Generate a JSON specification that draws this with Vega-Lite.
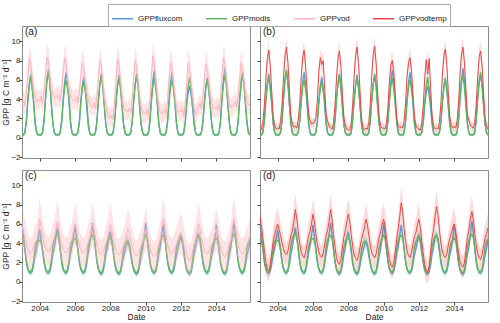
{
"$schema":"https://vega.github.io/schema/vega-lite/v6.json",
"padding":{"left":1,"top":3,"right":3,"bottom":0},
"bounds":"flush",
"columns":2,
"spacing":{"row":12,"column":10},
"config":{"font":"Liberation Sans","view":{"stroke":"#8c8c8c","strokeWidth":1},
"axis":{"domain":false,"grid":false,"tickColor":"#444","tickSize":3,"labelFontSize":8,"labelColor":"#222","titleFontSize":8.5,"titleFontWeight":"normal","titleColor":"#222","labelPadding":-1,"titlePadding":0},
"title":{"anchor":"start","frame":"group","offset":-11,"dx":3,"fontSize":10,"fontWeight":"normal","color":"#222"}},
"datasets":{
"top":[
{"t":"2003-01","f":0.3,"F":0.15,"m":0.3,"M":0.15,"v":3.3,"V":1.0,"r":0.7,"R":0.5},
{"t":"2003-02","f":0.3,"F":0.15,"m":0.3,"M":0.15,"v":3.8,"V":1.0,"r":0.9,"R":0.5},
{"t":"2003-03","f":0.6,"F":0.2,"m":0.5,"M":0.2,"v":3.4,"V":1.1,"r":1.6,"R":0.6},
{"t":"2003-04","f":1.8,"F":0.3,"m":1.6,"M":0.3,"v":4.6,"V":1.2,"r":3.3,"R":0.7},
{"t":"2003-05","f":3.9,"F":0.4,"m":3.7,"M":0.45,"v":6.4,"V":1.3,"r":6.0,"R":0.8},
{"t":"2003-06","f":5.6,"F":0.5,"m":5.5,"M":0.55,"v":8.3,"V":1.4,"r":8.2,"R":0.9},
{"t":"2003-07","f":6.6,"F":0.5,"m":6.3,"M":0.55,"v":7.6,"V":1.4,"r":9.1,"R":1.0},
{"t":"2003-08","f":5.4,"F":0.5,"m":5.0,"M":0.55,"v":6.2,"V":1.3,"r":7.5,"R":0.9},
{"t":"2003-09","f":3.3,"F":0.4,"m":3.8,"M":0.6,"v":4.9,"V":1.2,"r":4.8,"R":0.8},
{"t":"2003-10","f":1.4,"F":0.3,"m":1.6,"M":0.35,"v":4.2,"V":1.1,"r":2.2,"R":0.6},
{"t":"2003-11","f":0.5,"F":0.2,"m":0.5,"M":0.2,"v":3.7,"V":1.0,"r":1.3,"R":0.5},
{"t":"2003-12","f":0.3,"F":0.15,"m":0.3,"M":0.15,"v":4.0,"V":1.0,"r":0.9,"R":0.5},
{"t":"2004-01","f":0.3,"F":0.15,"m":0.3,"M":0.15,"v":3.8,"V":1.0,"r":1.0,"R":0.5},
{"t":"2004-02","f":0.3,"F":0.15,"m":0.3,"M":0.15,"v":4.3,"V":1.0,"r":0.9,"R":0.5},
{"t":"2004-03","f":0.6,"F":0.2,"m":0.5,"M":0.2,"v":3.6,"V":1.1,"r":1.7,"R":0.6},
{"t":"2004-04","f":1.9,"F":0.3,"m":1.7,"M":0.3,"v":4.8,"V":1.2,"r":3.4,"R":0.7},
{"t":"2004-05","f":4.1,"F":0.4,"m":4.0,"M":0.45,"v":6.6,"V":1.3,"r":6.2,"R":0.8},
{"t":"2004-06","f":6.0,"F":0.5,"m":6.1,"M":0.55,"v":8.3,"V":1.4,"r":8.5,"R":0.9},
{"t":"2004-07","f":7.0,"F":0.5,"m":7.0,"M":0.55,"v":7.9,"V":1.4,"r":9.4,"R":1.0},
{"t":"2004-08","f":5.7,"F":0.5,"m":5.6,"M":0.55,"v":6.4,"V":1.3,"r":7.8,"R":0.9},
{"t":"2004-09","f":3.4,"F":0.4,"m":3.4,"M":0.6,"v":5.0,"V":1.2,"r":4.9,"R":0.8},
{"t":"2004-10","f":1.4,"F":0.3,"m":1.5,"M":0.35,"v":4.5,"V":1.1,"r":2.3,"R":0.6},
{"t":"2004-11","f":0.5,"F":0.2,"m":0.5,"M":0.2,"v":4.1,"V":1.0,"r":1.4,"R":0.5},
{"t":"2004-12","f":0.3,"F":0.15,"m":0.3,"M":0.15,"v":4.2,"V":1.0,"r":1.1,"R":0.5},
{"t":"2005-01","f":0.3,"F":0.15,"m":0.3,"M":0.15,"v":4.1,"V":1.0,"r":1.2,"R":0.5},
{"t":"2005-02","f":0.3,"F":0.15,"m":0.3,"M":0.15,"v":4.4,"V":1.0,"r":1.0,"R":0.5},
{"t":"2005-03","f":0.6,"F":0.2,"m":0.5,"M":0.2,"v":3.8,"V":1.1,"r":1.8,"R":0.6},
{"t":"2005-04","f":1.8,"F":0.3,"m":1.6,"M":0.3,"v":5.0,"V":1.2,"r":3.5,"R":0.7},
{"t":"2005-05","f":4.0,"F":0.4,"m":3.6,"M":0.45,"v":6.8,"V":1.3,"r":6.1,"R":0.8},
{"t":"2005-06","f":5.8,"F":0.5,"m":5.3,"M":0.55,"v":8.3,"V":1.4,"r":8.3,"R":0.9},
{"t":"2005-07","f":6.8,"F":0.5,"m":6.0,"M":0.55,"v":7.8,"V":1.4,"r":9.1,"R":1.0},
{"t":"2005-08","f":5.5,"F":0.5,"m":5.0,"M":0.55,"v":6.1,"V":1.3,"r":7.5,"R":0.9},
{"t":"2005-09","f":3.4,"F":0.4,"m":4.2,"M":0.6,"v":5.2,"V":1.2,"r":4.9,"R":0.8},
{"t":"2005-10","f":1.4,"F":0.3,"m":1.8,"M":0.35,"v":4.3,"V":1.1,"r":2.6,"R":0.6},
{"t":"2005-11","f":0.5,"F":0.2,"m":0.5,"M":0.2,"v":4.0,"V":1.0,"r":1.8,"R":0.5},
{"t":"2005-12","f":0.3,"F":0.15,"m":0.3,"M":0.15,"v":3.9,"V":1.0,"r":1.4,"R":0.5},
{"t":"2006-01","f":0.3,"F":0.15,"m":0.3,"M":0.15,"v":3.9,"V":1.0,"r":1.5,"R":0.5},
{"t":"2006-02","f":0.3,"F":0.15,"m":0.3,"M":0.15,"v":4.2,"V":1.0,"r":1.6,"R":0.5},
{"t":"2006-03","f":0.6,"F":0.2,"m":0.5,"M":0.2,"v":3.6,"V":1.1,"r":2.0,"R":0.6},
{"t":"2006-04","f":1.7,"F":0.3,"m":1.5,"M":0.3,"v":4.6,"V":1.2,"r":3.8,"R":0.7},
{"t":"2006-05","f":3.8,"F":0.4,"m":3.5,"M":0.45,"v":6.3,"V":1.3,"r":6.8,"R":0.8},
{"t":"2006-06","f":5.4,"F":0.5,"m":5.1,"M":0.55,"v":7.8,"V":1.4,"r":8.3,"R":0.9},
{"t":"2006-07","f":6.3,"F":0.5,"m":5.8,"M":0.55,"v":7.2,"V":1.4,"r":7.6,"R":1.0},
{"t":"2006-08","f":5.1,"F":0.5,"m":4.9,"M":0.55,"v":6.0,"V":1.3,"r":8.0,"R":0.9},
{"t":"2006-09","f":3.1,"F":0.4,"m":4.0,"M":0.6,"v":4.9,"V":1.2,"r":5.0,"R":0.8},
{"t":"2006-10","f":1.3,"F":0.3,"m":1.7,"M":0.35,"v":4.1,"V":1.1,"r":2.4,"R":0.6},
{"t":"2006-11","f":0.5,"F":0.2,"m":0.5,"M":0.2,"v":3.5,"V":1.0,"r":1.7,"R":0.5},
{"t":"2006-12","f":0.3,"F":0.15,"m":0.3,"M":0.15,"v":3.3,"V":1.0,"r":1.2,"R":0.5},
{"t":"2007-01","f":0.3,"F":0.15,"m":0.3,"M":0.15,"v":3.2,"V":1.0,"r":1.0,"R":0.5},
{"t":"2007-02","f":0.3,"F":0.15,"m":0.3,"M":0.15,"v":3.6,"V":1.0,"r":0.9,"R":0.5},
{"t":"2007-03","f":0.6,"F":0.2,"m":0.5,"M":0.2,"v":3.0,"V":1.1,"r":1.5,"R":0.6},
{"t":"2007-04","f":1.8,"F":0.3,"m":1.7,"M":0.3,"v":4.3,"V":1.2,"r":3.3,"R":0.7},
{"t":"2007-05","f":3.9,"F":0.4,"m":3.9,"M":0.45,"v":6.2,"V":1.3,"r":6.0,"R":0.8},
{"t":"2007-06","f":5.6,"F":0.5,"m":5.6,"M":0.55,"v":8.0,"V":1.4,"r":8.2,"R":0.9},
{"t":"2007-07","f":6.6,"F":0.5,"m":6.5,"M":0.55,"v":7.4,"V":1.4,"r":9.0,"R":1.0},
{"t":"2007-08","f":5.4,"F":0.5,"m":5.2,"M":0.55,"v":5.8,"V":1.3,"r":7.4,"R":0.9},
{"t":"2007-09","f":3.3,"F":0.4,"m":3.2,"M":0.6,"v":4.3,"V":1.2,"r":4.6,"R":0.8},
{"t":"2007-10","f":1.4,"F":0.3,"m":1.4,"M":0.35,"v":3.4,"V":1.1,"r":2.2,"R":0.6},
{"t":"2007-11","f":0.5,"F":0.2,"m":0.5,"M":0.2,"v":2.6,"V":1.0,"r":1.3,"R":0.5},
{"t":"2007-12","f":0.3,"F":0.15,"m":0.3,"M":0.15,"v":2.2,"V":1.0,"r":0.9,"R":0.5},
{"t":"2008-01","f":0.3,"F":0.15,"m":0.3,"M":0.15,"v":2.0,"V":1.0,"r":0.8,"R":0.5},
{"t":"2008-02","f":0.3,"F":0.15,"m":0.3,"M":0.15,"v":2.3,"V":1.0,"r":0.8,"R":0.5},
{"t":"2008-03","f":0.6,"F":0.2,"m":0.5,"M":0.2,"v":1.9,"V":1.1,"r":1.4,"R":0.6},
{"t":"2008-04","f":1.8,"F":0.3,"m":1.7,"M":0.3,"v":3.8,"V":1.2,"r":3.4,"R":0.7},
{"t":"2008-05","f":3.9,"F":0.4,"m":3.8,"M":0.45,"v":6.2,"V":1.3,"r":6.3,"R":0.8},
{"t":"2008-06","f":5.5,"F":0.5,"m":5.5,"M":0.55,"v":8.2,"V":1.4,"r":8.6,"R":0.9},
{"t":"2008-07","f":6.5,"F":0.5,"m":6.3,"M":0.55,"v":7.5,"V":1.4,"r":9.4,"R":1.0},
{"t":"2008-08","f":5.3,"F":0.5,"m":5.1,"M":0.55,"v":5.9,"V":1.3,"r":7.7,"R":0.9},
{"t":"2008-09","f":3.2,"F":0.4,"m":3.3,"M":0.6,"v":4.4,"V":1.2,"r":4.8,"R":0.8},
{"t":"2008-10","f":1.4,"F":0.3,"m":1.5,"M":0.35,"v":3.3,"V":1.1,"r":2.0,"R":0.6},
{"t":"2008-11","f":0.5,"F":0.2,"m":0.5,"M":0.2,"v":2.8,"V":1.0,"r":1.1,"R":0.5},
{"t":"2008-12","f":0.3,"F":0.15,"m":0.3,"M":0.15,"v":2.9,"V":1.0,"r":0.8,"R":0.5},
{"t":"2009-01","f":0.3,"F":0.15,"m":0.3,"M":0.15,"v":2.7,"V":1.0,"r":1.0,"R":0.5},
{"t":"2009-02","f":0.3,"F":0.15,"m":0.3,"M":0.15,"v":3.1,"V":1.0,"r":0.9,"R":0.5},
{"t":"2009-03","f":0.6,"F":0.2,"m":0.5,"M":0.2,"v":2.6,"V":1.1,"r":1.6,"R":0.6},
{"t":"2009-04","f":1.8,"F":0.3,"m":1.7,"M":0.3,"v":4.2,"V":1.2,"r":3.5,"R":0.7},
{"t":"2009-05","f":3.9,"F":0.4,"m":3.9,"M":0.45,"v":6.3,"V":1.3,"r":6.4,"R":0.8},
{"t":"2009-06","f":5.6,"F":0.5,"m":5.6,"M":0.55,"v":8.0,"V":1.4,"r":8.7,"R":0.9},
{"t":"2009-07","f":6.6,"F":0.5,"m":6.5,"M":0.55,"v":7.4,"V":1.4,"r":9.5,"R":1.0},
{"t":"2009-08","f":5.4,"F":0.5,"m":5.2,"M":0.55,"v":5.7,"V":1.3,"r":7.6,"R":0.9},
{"t":"2009-09","f":3.3,"F":0.4,"m":3.0,"M":0.6,"v":4.2,"V":1.2,"r":4.6,"R":0.8},
{"t":"2009-10","f":1.4,"F":0.3,"m":1.4,"M":0.35,"v":3.2,"V":1.1,"r":2.1,"R":0.6},
{"t":"2009-11","f":0.5,"F":0.2,"m":0.5,"M":0.2,"v":2.5,"V":1.0,"r":1.2,"R":0.5},
{"t":"2009-12","f":0.3,"F":0.15,"m":0.3,"M":0.15,"v":2.6,"V":1.0,"r":1.0,"R":0.5},
{"t":"2010-01","f":0.3,"F":0.15,"m":0.3,"M":0.15,"v":2.4,"V":1.0,"r":1.0,"R":0.5},
{"t":"2010-02","f":0.3,"F":0.15,"m":0.3,"M":0.15,"v":2.9,"V":1.0,"r":0.9,"R":0.5},
{"t":"2010-03","f":0.6,"F":0.2,"m":0.5,"M":0.2,"v":2.3,"V":1.1,"r":1.5,"R":0.6},
{"t":"2010-04","f":1.9,"F":0.3,"m":1.6,"M":0.3,"v":4.0,"V":1.2,"r":3.2,"R":0.7},
{"t":"2010-05","f":4.1,"F":0.4,"m":3.7,"M":0.45,"v":6.4,"V":1.3,"r":5.8,"R":0.8},
{"t":"2010-06","f":6.0,"F":0.5,"m":5.4,"M":0.55,"v":8.5,"V":1.4,"r":7.6,"R":0.9},
{"t":"2010-07","f":7.0,"F":0.5,"m":6.2,"M":0.55,"v":7.8,"V":1.4,"r":8.0,"R":1.0},
{"t":"2010-08","f":5.7,"F":0.5,"m":5.0,"M":0.55,"v":6.0,"V":1.3,"r":6.8,"R":0.9},
{"t":"2010-09","f":3.4,"F":0.4,"m":3.6,"M":0.6,"v":4.5,"V":1.2,"r":4.4,"R":0.8},
{"t":"2010-10","f":1.4,"F":0.3,"m":1.6,"M":0.35,"v":3.3,"V":1.1,"r":2.0,"R":0.6},
{"t":"2010-11","f":0.5,"F":0.2,"m":0.5,"M":0.2,"v":2.6,"V":1.0,"r":1.2,"R":0.5},
{"t":"2010-12","f":0.3,"F":0.15,"m":0.3,"M":0.15,"v":2.5,"V":1.0,"r":1.0,"R":0.5},
{"t":"2011-01","f":0.3,"F":0.15,"m":0.3,"M":0.15,"v":2.6,"V":1.0,"r":1.2,"R":0.5},
{"t":"2011-02","f":0.3,"F":0.15,"m":0.3,"M":0.15,"v":3.0,"V":1.0,"r":1.0,"R":0.5},
{"t":"2011-03","f":0.6,"F":0.2,"m":0.5,"M":0.2,"v":2.4,"V":1.1,"r":1.7,"R":0.6},
{"t":"2011-04","f":1.8,"F":0.3,"m":1.6,"M":0.3,"v":3.9,"V":1.2,"r":3.6,"R":0.7},
{"t":"2011-05","f":4.0,"F":0.4,"m":3.6,"M":0.45,"v":6.0,"V":1.3,"r":6.4,"R":0.8},
{"t":"2011-06","f":5.8,"F":0.5,"m":5.3,"M":0.55,"v":7.8,"V":1.4,"r":7.8,"R":0.9},
{"t":"2011-07","f":6.8,"F":0.5,"m":6.0,"M":0.55,"v":7.2,"V":1.4,"r":8.3,"R":1.0},
{"t":"2011-08","f":5.5,"F":0.5,"m":5.0,"M":0.55,"v":5.7,"V":1.3,"r":7.0,"R":0.9},
{"t":"2011-09","f":3.4,"F":0.4,"m":3.8,"M":0.6,"v":4.4,"V":1.2,"r":4.5,"R":0.8},
{"t":"2011-10","f":1.4,"F":0.3,"m":1.7,"M":0.35,"v":3.2,"V":1.1,"r":2.2,"R":0.6},
{"t":"2011-11","f":0.5,"F":0.2,"m":0.5,"M":0.2,"v":2.6,"V":1.0,"r":1.3,"R":0.5},
{"t":"2011-12","f":0.3,"F":0.15,"m":0.3,"M":0.15,"v":2.8,"V":1.0,"r":1.0,"R":0.5},
{"t":"2012-01","f":0.3,"F":0.15,"m":0.3,"M":0.15,"v":2.7,"V":1.0,"r":0.9,"R":0.5},
{"t":"2012-02","f":0.3,"F":0.15,"m":0.3,"M":0.15,"v":3.0,"V":1.0,"r":0.8,"R":0.5},
{"t":"2012-03","f":0.6,"F":0.2,"m":0.5,"M":0.2,"v":2.2,"V":1.1,"r":1.5,"R":0.6},
{"t":"2012-04","f":1.6,"F":0.3,"m":1.7,"M":0.3,"v":3.6,"V":1.2,"r":3.4,"R":0.7},
{"t":"2012-05","f":3.4,"F":0.4,"m":3.8,"M":0.45,"v":5.8,"V":1.3,"r":6.2,"R":0.8},
{"t":"2012-06","f":4.7,"F":0.5,"m":5.5,"M":0.55,"v":7.8,"V":1.4,"r":8.1,"R":0.9},
{"t":"2012-07","f":5.4,"F":0.5,"m":6.3,"M":0.55,"v":7.0,"V":1.4,"r":6.6,"R":1.0},
{"t":"2012-08","f":4.5,"F":0.5,"m":5.1,"M":0.55,"v":5.6,"V":1.3,"r":8.2,"R":0.9},
{"t":"2012-09","f":2.9,"F":0.4,"m":4.0,"M":0.6,"v":4.2,"V":1.2,"r":5.0,"R":0.8},
{"t":"2012-10","f":1.3,"F":0.3,"m":1.8,"M":0.35,"v":3.0,"V":1.1,"r":2.2,"R":0.6},
{"t":"2012-11","f":0.5,"F":0.2,"m":0.5,"M":0.2,"v":2.4,"V":1.0,"r":1.2,"R":0.5},
{"t":"2012-12","f":0.3,"F":0.15,"m":0.3,"M":0.15,"v":2.8,"V":1.0,"r":0.9,"R":0.5},
{"t":"2013-01","f":0.3,"F":0.15,"m":0.3,"M":0.15,"v":3.2,"V":1.0,"r":1.0,"R":0.5},
{"t":"2013-02","f":0.3,"F":0.15,"m":0.3,"M":0.15,"v":3.6,"V":1.0,"r":0.9,"R":0.5},
{"t":"2013-03","f":0.6,"F":0.2,"m":0.5,"M":0.2,"v":3.0,"V":1.1,"r":1.6,"R":0.6},
{"t":"2013-04","f":1.7,"F":0.3,"m":1.6,"M":0.3,"v":4.3,"V":1.2,"r":3.5,"R":0.7},
{"t":"2013-05","f":3.7,"F":0.4,"m":3.6,"M":0.45,"v":6.1,"V":1.3,"r":6.4,"R":0.8},
{"t":"2013-06","f":5.3,"F":0.5,"m":5.3,"M":0.55,"v":7.6,"V":1.4,"r":8.5,"R":0.9},
{"t":"2013-07","f":6.2,"F":0.5,"m":6.1,"M":0.55,"v":7.1,"V":1.4,"r":9.2,"R":1.0},
{"t":"2013-08","f":5.1,"F":0.5,"m":4.9,"M":0.55,"v":5.8,"V":1.3,"r":7.6,"R":0.9},
{"t":"2013-09","f":3.1,"F":0.4,"m":3.4,"M":0.6,"v":4.5,"V":1.2,"r":4.7,"R":0.8},
{"t":"2013-10","f":1.3,"F":0.3,"m":1.5,"M":0.35,"v":3.6,"V":1.1,"r":2.2,"R":0.6},
{"t":"2013-11","f":0.5,"F":0.2,"m":0.5,"M":0.2,"v":3.0,"V":1.0,"r":1.3,"R":0.5},
{"t":"2013-12","f":0.3,"F":0.15,"m":0.3,"M":0.15,"v":3.1,"V":1.0,"r":1.0,"R":0.5},
{"t":"2014-01","f":0.3,"F":0.15,"m":0.3,"M":0.15,"v":3.0,"V":1.0,"r":1.2,"R":0.5},
{"t":"2014-02","f":0.3,"F":0.15,"m":0.3,"M":0.15,"v":3.4,"V":1.0,"r":1.0,"R":0.5},
{"t":"2014-03","f":0.6,"F":0.2,"m":0.5,"M":0.2,"v":2.8,"V":1.1,"r":1.7,"R":0.6},
{"t":"2014-04","f":1.9,"F":0.3,"m":1.7,"M":0.3,"v":4.3,"V":1.2,"r":3.6,"R":0.7},
{"t":"2014-05","f":4.2,"F":0.4,"m":3.9,"M":0.45,"v":6.4,"V":1.3,"r":6.5,"R":0.8},
{"t":"2014-06","f":6.1,"F":0.5,"m":5.7,"M":0.55,"v":8.3,"V":1.4,"r":8.7,"R":0.9},
{"t":"2014-07","f":7.2,"F":0.5,"m":6.5,"M":0.55,"v":7.6,"V":1.4,"r":9.4,"R":1.0},
{"t":"2014-08","f":5.9,"F":0.5,"m":5.2,"M":0.55,"v":6.0,"V":1.3,"r":7.8,"R":0.9},
{"t":"2014-09","f":3.5,"F":0.4,"m":3.2,"M":0.6,"v":4.6,"V":1.2,"r":4.9,"R":0.8},
{"t":"2014-10","f":1.5,"F":0.3,"m":1.5,"M":0.35,"v":3.6,"V":1.1,"r":2.4,"R":0.6},
{"t":"2014-11","f":0.5,"F":0.2,"m":0.5,"M":0.2,"v":3.1,"V":1.0,"r":1.8,"R":0.5},
{"t":"2014-12","f":0.3,"F":0.15,"m":0.3,"M":0.15,"v":3.2,"V":1.0,"r":1.3,"R":0.5},
{"t":"2015-01","f":0.3,"F":0.15,"m":0.3,"M":0.15,"v":3.4,"V":1.0,"r":1.1,"R":0.5},
{"t":"2015-02","f":0.3,"F":0.15,"m":0.3,"M":0.15,"v":3.8,"V":1.0,"r":1.0,"R":0.5},
{"t":"2015-03","f":0.6,"F":0.2,"m":0.5,"M":0.2,"v":3.2,"V":1.1,"r":1.6,"R":0.6},
{"t":"2015-04","f":1.8,"F":0.3,"m":1.8,"M":0.3,"v":4.4,"V":1.2,"r":3.4,"R":0.7},
{"t":"2015-05","f":3.9,"F":0.4,"m":4.1,"M":0.45,"v":6.2,"V":1.3,"r":6.2,"R":0.8},
{"t":"2015-06","f":5.6,"F":0.5,"m":6.0,"M":0.55,"v":7.8,"V":1.4,"r":8.4,"R":0.9},
{"t":"2015-07","f":6.6,"F":0.5,"m":6.8,"M":0.55,"v":7.2,"V":1.4,"r":9.0,"R":1.0},
{"t":"2015-08","f":5.4,"F":0.5,"m":5.4,"M":0.55,"v":5.8,"V":1.3,"r":7.5,"R":0.9},
{"t":"2015-09","f":3.3,"F":0.4,"m":3.4,"M":0.6,"v":4.5,"V":1.2,"r":4.6,"R":0.8},
{"t":"2015-10","f":1.4,"F":0.3,"m":1.5,"M":0.35,"v":3.8,"V":1.1,"r":2.1,"R":0.6},
{"t":"2015-11","f":0.5,"F":0.2,"m":0.5,"M":0.2,"v":3.4,"V":1.0,"r":1.2,"R":0.5},
{"t":"2015-12","f":0.3,"F":0.15,"m":0.3,"M":0.15,"v":3.5,"V":1.0,"r":0.9,"R":0.5}
],
"bot":[
{"t":"2003-01","f":6.0,"F":0.7,"m":4.5,"M":0.5,"v":5.8,"V":2.2,"r":6.6,"R":1.6},
{"t":"2003-02","f":4.8,"F":0.6,"m":4.2,"M":0.5,"v":5.2,"V":2.0,"r":5.7,"R":1.5},
{"t":"2003-03","f":3.3,"F":0.5,"m":3.5,"M":0.5,"v":4.6,"V":1.8,"r":4.6,"R":1.4},
{"t":"2003-04","f":2.0,"F":0.4,"m":2.2,"M":0.4,"v":3.9,"V":1.7,"r":3.3,"R":1.3},
{"t":"2003-05","f":1.3,"F":0.35,"m":1.4,"M":0.3,"v":3.3,"V":1.6,"r":2.0,"R":1.2},
{"t":"2003-06","f":1.0,"F":0.3,"m":1.0,"M":0.3,"v":3.0,"V":1.6,"r":1.4,"R":1.2},
{"t":"2003-07","f":0.9,"F":0.3,"m":1.0,"M":0.3,"v":3.0,"V":1.6,"r":1.2,"R":1.2},
{"t":"2003-08","f":1.1,"F":0.35,"m":1.3,"M":0.3,"v":3.2,"V":1.6,"r":1.8,"R":1.2},
{"t":"2003-09","f":1.8,"F":0.4,"m":2.3,"M":0.4,"v":3.6,"V":1.7,"r":3.0,"R":1.3},
{"t":"2003-10","f":2.8,"F":0.5,"m":3.6,"M":0.5,"v":4.1,"V":1.8,"r":4.2,"R":1.4},
{"t":"2003-11","f":3.4,"F":0.55,"m":4.2,"M":0.5,"v":4.3,"V":1.9,"r":4.9,"R":1.5},
{"t":"2003-12","f":4.4,"F":0.6,"m":4.3,"M":0.5,"v":5.2,"V":2.0,"r":5.5,"R":1.6},
{"t":"2004-01","f":5.4,"F":0.7,"m":4.3,"M":0.5,"v":6.5,"V":2.2,"r":6.0,"R":1.6},
{"t":"2004-02","f":4.4,"F":0.6,"m":4.1,"M":0.5,"v":5.7,"V":2.0,"r":5.4,"R":1.5},
{"t":"2004-03","f":3.2,"F":0.5,"m":3.4,"M":0.5,"v":4.7,"V":1.8,"r":4.8,"R":1.4},
{"t":"2004-04","f":2.0,"F":0.4,"m":2.2,"M":0.4,"v":4.0,"V":1.7,"r":4.0,"R":1.3},
{"t":"2004-05","f":1.3,"F":0.35,"m":1.4,"M":0.3,"v":3.5,"V":1.6,"r":3.4,"R":1.2},
{"t":"2004-06","f":1.0,"F":0.3,"m":1.0,"M":0.3,"v":3.2,"V":1.6,"r":3.0,"R":1.2},
{"t":"2004-07","f":0.9,"F":0.3,"m":1.0,"M":0.3,"v":3.1,"V":1.6,"r":2.8,"R":1.2},
{"t":"2004-08","f":1.1,"F":0.35,"m":1.3,"M":0.3,"v":3.3,"V":1.6,"r":3.2,"R":1.2},
{"t":"2004-09","f":1.8,"F":0.4,"m":2.4,"M":0.4,"v":3.7,"V":1.7,"r":4.0,"R":1.3},
{"t":"2004-10","f":2.9,"F":0.5,"m":3.8,"M":0.5,"v":4.2,"V":1.8,"r":4.8,"R":1.4},
{"t":"2004-11","f":3.6,"F":0.55,"m":4.5,"M":0.5,"v":4.5,"V":1.9,"r":5.2,"R":1.5},
{"t":"2004-12","f":4.6,"F":0.6,"m":4.8,"M":0.5,"v":5.4,"V":2.0,"r":6.2,"R":1.6},
{"t":"2005-01","f":5.6,"F":0.7,"m":5.0,"M":0.5,"v":6.3,"V":2.2,"r":7.5,"R":1.6},
{"t":"2005-02","f":4.6,"F":0.6,"m":4.6,"M":0.5,"v":5.6,"V":2.0,"r":6.5,"R":1.5},
{"t":"2005-03","f":3.3,"F":0.5,"m":3.6,"M":0.5,"v":4.6,"V":1.8,"r":5.2,"R":1.4},
{"t":"2005-04","f":2.0,"F":0.4,"m":2.2,"M":0.4,"v":3.9,"V":1.7,"r":4.0,"R":1.3},
{"t":"2005-05","f":1.3,"F":0.35,"m":1.4,"M":0.3,"v":3.4,"V":1.6,"r":3.1,"R":1.2},
{"t":"2005-06","f":1.0,"F":0.3,"m":1.0,"M":0.3,"v":3.1,"V":1.6,"r":2.7,"R":1.2},
{"t":"2005-07","f":0.9,"F":0.3,"m":1.0,"M":0.3,"v":3.0,"V":1.6,"r":2.5,"R":1.2},
{"t":"2005-08","f":1.1,"F":0.35,"m":1.3,"M":0.3,"v":3.2,"V":1.6,"r":3.0,"R":1.2},
{"t":"2005-09","f":1.9,"F":0.4,"m":2.3,"M":0.4,"v":3.6,"V":1.7,"r":3.9,"R":1.3},
{"t":"2005-10","f":3.0,"F":0.5,"m":3.6,"M":0.5,"v":4.1,"V":1.8,"r":4.7,"R":1.4},
{"t":"2005-11","f":3.7,"F":0.55,"m":4.2,"M":0.5,"v":4.4,"V":1.9,"r":5.2,"R":1.5},
{"t":"2005-12","f":4.7,"F":0.6,"m":4.4,"M":0.5,"v":5.2,"V":2.0,"r":6.0,"R":1.6},
{"t":"2006-01","f":5.9,"F":0.7,"m":4.5,"M":0.5,"v":6.0,"V":2.2,"r":7.0,"R":1.6},
{"t":"2006-02","f":4.7,"F":0.6,"m":4.3,"M":0.5,"v":5.5,"V":2.0,"r":6.2,"R":1.5},
{"t":"2006-03","f":3.3,"F":0.5,"m":3.5,"M":0.5,"v":4.5,"V":1.8,"r":5.0,"R":1.4},
{"t":"2006-04","f":2.0,"F":0.4,"m":2.2,"M":0.4,"v":3.8,"V":1.7,"r":3.9,"R":1.3},
{"t":"2006-05","f":1.3,"F":0.35,"m":1.4,"M":0.3,"v":3.3,"V":1.6,"r":3.1,"R":1.2},
{"t":"2006-06","f":1.0,"F":0.3,"m":1.0,"M":0.3,"v":3.0,"V":1.6,"r":2.7,"R":1.2},
{"t":"2006-07","f":0.9,"F":0.3,"m":1.0,"M":0.3,"v":3.0,"V":1.6,"r":2.5,"R":1.2},
{"t":"2006-08","f":1.1,"F":0.35,"m":1.3,"M":0.3,"v":3.2,"V":1.6,"r":3.0,"R":1.2},
{"t":"2006-09","f":1.9,"F":0.4,"m":2.3,"M":0.4,"v":3.6,"V":1.7,"r":3.9,"R":1.3},
{"t":"2006-10","f":3.0,"F":0.5,"m":3.7,"M":0.5,"v":4.1,"V":1.8,"r":4.8,"R":1.4},
{"t":"2006-11","f":3.8,"F":0.55,"m":4.4,"M":0.5,"v":4.5,"V":1.9,"r":5.4,"R":1.5},
{"t":"2006-12","f":4.9,"F":0.6,"m":4.7,"M":0.5,"v":5.3,"V":2.0,"r":6.3,"R":1.6},
{"t":"2007-01","f":6.1,"F":0.7,"m":4.8,"M":0.5,"v":6.0,"V":2.2,"r":7.5,"R":1.6},
{"t":"2007-02","f":4.8,"F":0.6,"m":4.5,"M":0.5,"v":5.4,"V":2.0,"r":6.4,"R":1.5},
{"t":"2007-03","f":3.3,"F":0.5,"m":3.5,"M":0.5,"v":4.5,"V":1.8,"r":4.9,"R":1.4},
{"t":"2007-04","f":2.0,"F":0.4,"m":2.2,"M":0.4,"v":3.8,"V":1.7,"r":3.6,"R":1.3},
{"t":"2007-05","f":1.3,"F":0.35,"m":1.3,"M":0.3,"v":3.2,"V":1.6,"r":2.6,"R":1.2},
{"t":"2007-06","f":0.9,"F":0.3,"m":1.0,"M":0.3,"v":2.9,"V":1.6,"r":2.0,"R":1.2},
{"t":"2007-07","f":0.8,"F":0.3,"m":0.9,"M":0.3,"v":2.8,"V":1.6,"r":1.8,"R":1.2},
{"t":"2007-08","f":1.0,"F":0.35,"m":1.2,"M":0.3,"v":3.0,"V":1.6,"r":2.3,"R":1.2},
{"t":"2007-09","f":1.7,"F":0.4,"m":2.2,"M":0.4,"v":3.5,"V":1.7,"r":3.5,"R":1.3},
{"t":"2007-10","f":2.8,"F":0.5,"m":3.5,"M":0.5,"v":4.0,"V":1.8,"r":4.6,"R":1.4},
{"t":"2007-11","f":3.5,"F":0.55,"m":4.2,"M":0.5,"v":4.4,"V":1.9,"r":5.3,"R":1.5},
{"t":"2007-12","f":4.5,"F":0.6,"m":4.5,"M":0.5,"v":5.3,"V":2.0,"r":6.2,"R":1.6},
{"t":"2008-01","f":5.2,"F":0.7,"m":4.5,"M":0.5,"v":6.0,"V":2.2,"r":7.0,"R":1.6},
{"t":"2008-02","f":4.3,"F":0.6,"m":4.3,"M":0.5,"v":5.4,"V":2.0,"r":6.2,"R":1.5},
{"t":"2008-03","f":3.1,"F":0.5,"m":3.4,"M":0.5,"v":4.4,"V":1.8,"r":4.9,"R":1.4},
{"t":"2008-04","f":1.9,"F":0.4,"m":2.1,"M":0.4,"v":3.7,"V":1.7,"r":3.7,"R":1.3},
{"t":"2008-05","f":1.2,"F":0.35,"m":1.3,"M":0.3,"v":3.2,"V":1.6,"r":2.8,"R":1.2},
{"t":"2008-06","f":0.9,"F":0.3,"m":1.0,"M":0.3,"v":2.9,"V":1.6,"r":2.4,"R":1.2},
{"t":"2008-07","f":0.8,"F":0.3,"m":0.9,"M":0.3,"v":2.8,"V":1.6,"r":2.2,"R":1.2},
{"t":"2008-08","f":1.0,"F":0.35,"m":1.2,"M":0.3,"v":3.0,"V":1.6,"r":2.7,"R":1.2},
{"t":"2008-09","f":1.7,"F":0.4,"m":2.2,"M":0.4,"v":3.4,"V":1.7,"r":3.6,"R":1.3},
{"t":"2008-10","f":2.6,"F":0.5,"m":3.4,"M":0.5,"v":3.8,"V":1.8,"r":4.4,"R":1.4},
{"t":"2008-11","f":3.2,"F":0.55,"m":4.0,"M":0.5,"v":4.1,"V":1.9,"r":5.0,"R":1.5},
{"t":"2008-12","f":3.8,"F":0.6,"m":4.2,"M":0.5,"v":4.8,"V":2.0,"r":5.6,"R":1.6},
{"t":"2009-01","f":4.2,"F":0.7,"m":4.2,"M":0.5,"v":5.5,"V":2.2,"r":6.5,"R":1.6},
{"t":"2009-02","f":3.6,"F":0.6,"m":3.9,"M":0.5,"v":5.0,"V":2.0,"r":5.9,"R":1.5},
{"t":"2009-03","f":2.7,"F":0.5,"m":3.1,"M":0.5,"v":4.2,"V":1.8,"r":4.8,"R":1.4},
{"t":"2009-04","f":1.8,"F":0.4,"m":2.0,"M":0.4,"v":3.6,"V":1.7,"r":3.8,"R":1.3},
{"t":"2009-05","f":1.2,"F":0.35,"m":1.3,"M":0.3,"v":3.1,"V":1.6,"r":3.0,"R":1.2},
{"t":"2009-06","f":0.9,"F":0.3,"m":1.0,"M":0.3,"v":2.8,"V":1.6,"r":2.7,"R":1.2},
{"t":"2009-07","f":0.8,"F":0.3,"m":0.9,"M":0.3,"v":2.7,"V":1.6,"r":2.5,"R":1.2},
{"t":"2009-08","f":1.0,"F":0.35,"m":1.2,"M":0.3,"v":2.9,"V":1.6,"r":2.9,"R":1.2},
{"t":"2009-09","f":1.7,"F":0.4,"m":2.2,"M":0.4,"v":3.3,"V":1.7,"r":3.8,"R":1.3},
{"t":"2009-10","f":2.7,"F":0.5,"m":3.5,"M":0.5,"v":3.7,"V":1.8,"r":4.6,"R":1.4},
{"t":"2009-11","f":3.4,"F":0.55,"m":4.1,"M":0.5,"v":4.0,"V":1.9,"r":5.2,"R":1.5},
{"t":"2009-12","f":4.6,"F":0.6,"m":4.5,"M":0.5,"v":4.9,"V":2.0,"r":6.0,"R":1.6},
{"t":"2010-01","f":6.1,"F":0.7,"m":4.8,"M":0.5,"v":5.5,"V":2.2,"r":6.5,"R":1.6},
{"t":"2010-02","f":4.9,"F":0.6,"m":4.5,"M":0.5,"v":5.0,"V":2.0,"r":5.8,"R":1.5},
{"t":"2010-03","f":3.3,"F":0.5,"m":3.5,"M":0.5,"v":4.2,"V":1.8,"r":4.5,"R":1.4},
{"t":"2010-04","f":2.0,"F":0.4,"m":2.2,"M":0.4,"v":3.5,"V":1.7,"r":3.3,"R":1.3},
{"t":"2010-05","f":1.3,"F":0.35,"m":1.4,"M":0.3,"v":3.0,"V":1.6,"r":2.3,"R":1.2},
{"t":"2010-06","f":1.0,"F":0.3,"m":1.0,"M":0.3,"v":2.7,"V":1.6,"r":1.7,"R":1.2},
{"t":"2010-07","f":0.9,"F":0.3,"m":1.0,"M":0.3,"v":2.6,"V":1.6,"r":1.5,"R":1.2},
{"t":"2010-08","f":1.1,"F":0.35,"m":1.3,"M":0.3,"v":2.8,"V":1.6,"r":2.0,"R":1.2},
{"t":"2010-09","f":1.8,"F":0.4,"m":2.3,"M":0.4,"v":3.3,"V":1.7,"r":3.2,"R":1.3},
{"t":"2010-10","f":2.9,"F":0.5,"m":3.6,"M":0.5,"v":3.9,"V":1.8,"r":4.5,"R":1.4},
{"t":"2010-11","f":3.6,"F":0.55,"m":4.3,"M":0.5,"v":4.3,"V":1.9,"r":5.5,"R":1.5},
{"t":"2010-12","f":4.8,"F":0.6,"m":4.7,"M":0.5,"v":5.6,"V":2.0,"r":6.8,"R":1.6},
{"t":"2011-01","f":5.9,"F":0.7,"m":4.8,"M":0.5,"v":6.5,"V":2.2,"r":8.2,"R":1.6},
{"t":"2011-02","f":4.8,"F":0.6,"m":4.5,"M":0.5,"v":5.8,"V":2.0,"r":7.2,"R":1.5},
{"t":"2011-03","f":3.3,"F":0.5,"m":3.6,"M":0.5,"v":4.7,"V":1.8,"r":5.5,"R":1.4},
{"t":"2011-04","f":2.0,"F":0.4,"m":2.2,"M":0.4,"v":3.9,"V":1.7,"r":4.2,"R":1.3},
{"t":"2011-05","f":1.3,"F":0.35,"m":1.4,"M":0.3,"v":3.3,"V":1.6,"r":3.2,"R":1.2},
{"t":"2011-06","f":1.0,"F":0.3,"m":1.0,"M":0.3,"v":3.0,"V":1.6,"r":2.7,"R":1.2},
{"t":"2011-07","f":0.9,"F":0.3,"m":1.0,"M":0.3,"v":2.9,"V":1.6,"r":2.5,"R":1.2},
{"t":"2011-08","f":1.1,"F":0.35,"m":1.3,"M":0.3,"v":3.1,"V":1.6,"r":3.0,"R":1.2},
{"t":"2011-09","f":1.8,"F":0.4,"m":2.3,"M":0.4,"v":3.5,"V":1.7,"r":3.9,"R":1.3},
{"t":"2011-10","f":2.8,"F":0.5,"m":3.6,"M":0.5,"v":3.9,"V":1.8,"r":4.7,"R":1.4},
{"t":"2011-11","f":3.4,"F":0.55,"m":4.2,"M":0.5,"v":4.2,"V":1.9,"r":5.1,"R":1.5},
{"t":"2011-12","f":4.2,"F":0.6,"m":4.5,"M":0.5,"v":4.8,"V":2.0,"r":5.9,"R":1.6},
{"t":"2012-01","f":4.8,"F":0.7,"m":4.8,"M":0.5,"v":5.0,"V":2.2,"r":6.5,"R":1.6},
{"t":"2012-02","f":4.1,"F":0.6,"m":4.4,"M":0.5,"v":4.6,"V":2.0,"r":5.6,"R":1.5},
{"t":"2012-03","f":3.0,"F":0.5,"m":3.4,"M":0.5,"v":3.9,"V":1.8,"r":4.2,"R":1.4},
{"t":"2012-04","f":1.9,"F":0.4,"m":2.1,"M":0.4,"v":3.3,"V":1.7,"r":2.9,"R":1.3},
{"t":"2012-05","f":1.2,"F":0.35,"m":1.3,"M":0.3,"v":2.8,"V":1.6,"r":1.8,"R":1.2},
{"t":"2012-06","f":0.9,"F":0.3,"m":1.0,"M":0.3,"v":2.4,"V":1.6,"r":1.2,"R":1.2},
{"t":"2012-07","f":0.8,"F":0.3,"m":0.9,"M":0.3,"v":2.2,"V":1.6,"r":1.0,"R":1.2},
{"t":"2012-08","f":1.0,"F":0.35,"m":1.2,"M":0.3,"v":2.5,"V":1.6,"r":1.6,"R":1.2},
{"t":"2012-09","f":1.8,"F":0.4,"m":2.4,"M":0.4,"v":3.2,"V":1.7,"r":3.2,"R":1.3},
{"t":"2012-10","f":2.9,"F":0.5,"m":3.7,"M":0.5,"v":3.8,"V":1.8,"r":4.6,"R":1.4},
{"t":"2012-11","f":3.6,"F":0.55,"m":4.3,"M":0.5,"v":4.3,"V":1.9,"r":5.4,"R":1.5},
{"t":"2012-12","f":4.6,"F":0.6,"m":4.7,"M":0.5,"v":5.3,"V":2.0,"r":6.8,"R":1.6},
{"t":"2013-01","f":4.9,"F":0.7,"m":4.8,"M":0.5,"v":6.0,"V":2.2,"r":7.8,"R":1.6},
{"t":"2013-02","f":4.2,"F":0.6,"m":4.5,"M":0.5,"v":5.4,"V":2.0,"r":6.9,"R":1.5},
{"t":"2013-03","f":3.1,"F":0.5,"m":3.5,"M":0.5,"v":4.5,"V":1.8,"r":5.3,"R":1.4},
{"t":"2013-04","f":1.9,"F":0.4,"m":2.2,"M":0.4,"v":3.8,"V":1.7,"r":4.0,"R":1.3},
{"t":"2013-05","f":1.3,"F":0.35,"m":1.4,"M":0.3,"v":3.3,"V":1.6,"r":3.1,"R":1.2},
{"t":"2013-06","f":1.0,"F":0.3,"m":1.0,"M":0.3,"v":3.0,"V":1.6,"r":2.7,"R":1.2},
{"t":"2013-07","f":0.9,"F":0.3,"m":1.0,"M":0.3,"v":2.9,"V":1.6,"r":2.5,"R":1.2},
{"t":"2013-08","f":1.1,"F":0.35,"m":1.3,"M":0.3,"v":3.1,"V":1.6,"r":2.9,"R":1.2},
{"t":"2013-09","f":1.8,"F":0.4,"m":2.3,"M":0.4,"v":3.5,"V":1.7,"r":3.8,"R":1.3},
{"t":"2013-10","f":2.8,"F":0.5,"m":3.5,"M":0.5,"v":3.9,"V":1.8,"r":4.5,"R":1.4},
{"t":"2013-11","f":3.4,"F":0.55,"m":4.1,"M":0.5,"v":4.2,"V":1.9,"r":5.0,"R":1.5},
{"t":"2013-12","f":4.4,"F":0.6,"m":4.3,"M":0.5,"v":4.9,"V":2.0,"r":5.6,"R":1.6},
{"t":"2014-01","f":5.9,"F":0.7,"m":4.5,"M":0.5,"v":5.5,"V":2.2,"r":6.0,"R":1.6},
{"t":"2014-02","f":4.7,"F":0.6,"m":4.3,"M":0.5,"v":5.0,"V":2.0,"r":5.3,"R":1.5},
{"t":"2014-03","f":3.2,"F":0.5,"m":3.4,"M":0.5,"v":4.2,"V":1.8,"r":4.1,"R":1.4},
{"t":"2014-04","f":1.9,"F":0.4,"m":2.1,"M":0.4,"v":3.5,"V":1.7,"r":3.0,"R":1.3},
{"t":"2014-05","f":1.2,"F":0.35,"m":1.3,"M":0.3,"v":3.0,"V":1.6,"r":2.1,"R":1.2},
{"t":"2014-06","f":0.9,"F":0.3,"m":1.0,"M":0.3,"v":2.7,"V":1.6,"r":1.7,"R":1.2},
{"t":"2014-07","f":0.8,"F":0.3,"m":0.9,"M":0.3,"v":2.6,"V":1.6,"r":1.5,"R":1.2},
{"t":"2014-08","f":1.0,"F":0.35,"m":1.2,"M":0.3,"v":2.8,"V":1.6,"r":2.0,"R":1.2},
{"t":"2014-09","f":1.8,"F":0.4,"m":2.3,"M":0.4,"v":3.3,"V":1.7,"r":3.3,"R":1.3},
{"t":"2014-10","f":2.9,"F":0.5,"m":3.6,"M":0.5,"v":3.9,"V":1.8,"r":4.6,"R":1.4},
{"t":"2014-11","f":3.6,"F":0.55,"m":4.3,"M":0.5,"v":4.3,"V":1.9,"r":5.4,"R":1.5},
{"t":"2014-12","f":4.9,"F":0.6,"m":4.7,"M":0.5,"v":5.5,"V":2.0,"r":6.5,"R":1.6},
{"t":"2015-01","f":6.3,"F":0.7,"m":4.9,"M":0.5,"v":6.5,"V":2.2,"r":7.3,"R":1.6},
{"t":"2015-02","f":5.0,"F":0.6,"m":4.6,"M":0.5,"v":5.8,"V":2.0,"r":6.4,"R":1.5},
{"t":"2015-03","f":3.4,"F":0.5,"m":3.6,"M":0.5,"v":4.7,"V":1.8,"r":5.0,"R":1.4},
{"t":"2015-04","f":2.0,"F":0.4,"m":2.2,"M":0.4,"v":3.9,"V":1.7,"r":3.8,"R":1.3},
{"t":"2015-05","f":1.3,"F":0.35,"m":1.4,"M":0.3,"v":3.3,"V":1.6,"r":2.9,"R":1.2},
{"t":"2015-06","f":1.0,"F":0.3,"m":1.0,"M":0.3,"v":3.0,"V":1.6,"r":2.5,"R":1.2},
{"t":"2015-07","f":0.9,"F":0.3,"m":1.0,"M":0.3,"v":2.9,"V":1.6,"r":2.3,"R":1.2},
{"t":"2015-08","f":1.1,"F":0.35,"m":1.3,"M":0.3,"v":3.1,"V":1.6,"r":2.8,"R":1.2},
{"t":"2015-09","f":1.8,"F":0.4,"m":2.3,"M":0.4,"v":3.5,"V":1.7,"r":3.7,"R":1.3},
{"t":"2015-10","f":2.8,"F":0.5,"m":3.6,"M":0.5,"v":3.9,"V":1.8,"r":4.5,"R":1.4},
{"t":"2015-11","f":3.4,"F":0.55,"m":4.2,"M":0.5,"v":4.2,"V":1.9,"r":5.0,"R":1.5},
{"t":"2015-12","f":4.3,"F":0.6,"m":4.4,"M":0.5,"v":4.8,"V":2.0,"r":5.6,"R":1.6}
]
},
"concat":[
{"width":228,"height":132,"data":{"name":"top"},"title":{"text":"(a)"},
"encoding":{"x":{"field":"t","type":"temporal","scale":{"domain":["2003-01-01","2015-12-01"]},"axis":{"values":[{"year":2004},{"year":2006},{"year":2008},{"year":2010},{"year":2012},{"year":2014}],"format":"%Y","labels":false,"title":null}}},
"layer":[
{"mark":{"type":"errorband","band":{"color":"#5b9bd5","opacity":0.22}},"encoding":{"y":{"field":"f","type":"quantitative","scale":{"domain":[-2.1,11.6],"nice":false,"zero":false},"axis":{"values":[-2,0,2,4,6,8,10],"title":"GPP [g C m⁻² d⁻¹]"}},"yError":{"field":"F"}}},
{"mark":{"type":"line","strokeWidth":1.3},"encoding":{"y":{"field":"f","type":"quantitative","axis":{"values":[-2,0,2,4,6,8,10],"title":"GPP [g C m⁻² d⁻¹]"}},"color":{"datum":"GPPfluxcom","scale":{"domain":["GPPfluxcom","GPPmodis","GPPvod","GPPvodtemp"],"range":["#5b9bd5","#5cb85c","#ffb3ba","#ee4444"]},"legend":{"orient":"none","legendX":86,"legendY":-22,"direction":"horizontal","title":null,"symbolType":"stroke","symbolSize":441,"symbolStrokeWidth":1.5,"labelFontSize":8,"columnPadding":20,"strokeColor":"#aaaaaa","fillColor":"white","padding":3,"labelColor":"#222"}}}},
{"mark":{"type":"errorband","band":{"color":"#5cb85c","opacity":0.22}},"encoding":{"y":{"field":"m","type":"quantitative","axis":{"values":[-2,0,2,4,6,8,10],"title":"GPP [g C m⁻² d⁻¹]"}},"yError":{"field":"M"}}},
{"mark":{"type":"line","strokeWidth":1.3},"encoding":{"y":{"field":"m","type":"quantitative","axis":{"values":[-2,0,2,4,6,8,10],"title":"GPP [g C m⁻² d⁻¹]"}},"color":{"datum":"GPPmodis"}}},
{"mark":{"type":"errorband","band":{"color":"#ffb3ba","opacity":0.35}},"encoding":{"y":{"field":"v","type":"quantitative","axis":{"values":[-2,0,2,4,6,8,10],"title":"GPP [g C m⁻² d⁻¹]"}},"yError":{"field":"V"}}},
{"mark":{"type":"line","strokeWidth":1},"encoding":{"y":{"field":"v","type":"quantitative","axis":{"values":[-2,0,2,4,6,8,10],"title":"GPP [g C m⁻² d⁻¹]"}},"color":{"datum":"GPPvod"}}}
]},
{"width":228,"height":132,"data":{"name":"top"},"title":{"text":"(b)"},
"encoding":{"x":{"field":"t","type":"temporal","scale":{"domain":["2003-01-01","2015-12-01"]},"axis":{"values":[{"year":2004},{"year":2006},{"year":2008},{"year":2010},{"year":2012},{"year":2014}],"format":"%Y","labels":false,"title":null}}},
"layer":[
{"mark":{"type":"errorband","band":{"color":"#5b9bd5","opacity":0.22}},"encoding":{"y":{"field":"f","type":"quantitative","scale":{"domain":[-2.1,11.6],"nice":false,"zero":false},"axis":{"values":[-2,0,2,4,6,8,10],"labels":false,"title":null}},"yError":{"field":"F"}}},
{"mark":{"type":"line","strokeWidth":1.3},"encoding":{"y":{"field":"f","type":"quantitative","axis":{"values":[-2,0,2,4,6,8,10],"labels":false,"title":null}},"color":{"datum":"GPPfluxcom"}}},
{"mark":{"type":"errorband","band":{"color":"#5cb85c","opacity":0.22}},"encoding":{"y":{"field":"m","type":"quantitative","axis":{"values":[-2,0,2,4,6,8,10],"labels":false,"title":null}},"yError":{"field":"M"}}},
{"mark":{"type":"line","strokeWidth":1.3},"encoding":{"y":{"field":"m","type":"quantitative","axis":{"values":[-2,0,2,4,6,8,10],"labels":false,"title":null}},"color":{"datum":"GPPmodis"}}},
{"mark":{"type":"errorband","band":{"color":"#ee4444","opacity":0.2}},"encoding":{"y":{"field":"r","type":"quantitative","axis":{"values":[-2,0,2,4,6,8,10],"labels":false,"title":null}},"yError":{"field":"R"}}},
{"mark":{"type":"line","strokeWidth":1},"encoding":{"y":{"field":"r","type":"quantitative","axis":{"values":[-2,0,2,4,6,8,10],"labels":false,"title":null}},"color":{"datum":"GPPvodtemp"}}}
]},
{"width":228,"height":132,"data":{"name":"bot"},"title":{"text":"(c)"},
"encoding":{"x":{"field":"t","type":"temporal","scale":{"domain":["2003-01-01","2015-12-01"]},"axis":{"values":[{"year":2004},{"year":2006},{"year":2008},{"year":2010},{"year":2012},{"year":2014}],"format":"%Y","title":"Date"}}},
"layer":[
{"mark":{"type":"errorband","band":{"color":"#5b9bd5","opacity":0.22}},"encoding":{"y":{"field":"f","type":"quantitative","scale":{"domain":[-2.1,11.6],"nice":false,"zero":false},"axis":{"values":[-2,0,2,4,6,8,10],"title":"GPP [g C m⁻² d⁻¹]"}},"yError":{"field":"F"}}},
{"mark":{"type":"line","strokeWidth":1.3},"encoding":{"y":{"field":"f","type":"quantitative","axis":{"values":[-2,0,2,4,6,8,10],"title":"GPP [g C m⁻² d⁻¹]"}},"color":{"datum":"GPPfluxcom"}}},
{"mark":{"type":"errorband","band":{"color":"#5cb85c","opacity":0.22}},"encoding":{"y":{"field":"m","type":"quantitative","axis":{"values":[-2,0,2,4,6,8,10],"title":"GPP [g C m⁻² d⁻¹]"}},"yError":{"field":"M"}}},
{"mark":{"type":"line","strokeWidth":1.3},"encoding":{"y":{"field":"m","type":"quantitative","axis":{"values":[-2,0,2,4,6,8,10],"title":"GPP [g C m⁻² d⁻¹]"}},"color":{"datum":"GPPmodis"}}},
{"mark":{"type":"errorband","band":{"color":"#ffb3ba","opacity":0.35}},"encoding":{"y":{"field":"v","type":"quantitative","axis":{"values":[-2,0,2,4,6,8,10],"title":"GPP [g C m⁻² d⁻¹]"}},"yError":{"field":"V"}}},
{"mark":{"type":"line","strokeWidth":1},"encoding":{"y":{"field":"v","type":"quantitative","axis":{"values":[-2,0,2,4,6,8,10],"title":"GPP [g C m⁻² d⁻¹]"}},"color":{"datum":"GPPvod"}}}
]},
{"width":228,"height":132,"data":{"name":"bot"},"title":{"text":"(d)"},
"encoding":{"x":{"field":"t","type":"temporal","scale":{"domain":["2003-01-01","2015-12-01"]},"axis":{"values":[{"year":2004},{"year":2006},{"year":2008},{"year":2010},{"year":2012},{"year":2014}],"format":"%Y","title":"Date"}}},
"layer":[
{"mark":{"type":"errorband","band":{"color":"#5b9bd5","opacity":0.22}},"encoding":{"y":{"field":"f","type":"quantitative","scale":{"domain":[-2.1,11.6],"nice":false,"zero":false},"axis":{"values":[-2,0,2,4,6,8,10],"labels":false,"title":null}},"yError":{"field":"F"}}},
{"mark":{"type":"line","strokeWidth":1.3},"encoding":{"y":{"field":"f","type":"quantitative","axis":{"values":[-2,0,2,4,6,8,10],"labels":false,"title":null}},"color":{"datum":"GPPfluxcom"}}},
{"mark":{"type":"errorband","band":{"color":"#5cb85c","opacity":0.22}},"encoding":{"y":{"field":"m","type":"quantitative","axis":{"values":[-2,0,2,4,6,8,10],"labels":false,"title":null}},"yError":{"field":"M"}}},
{"mark":{"type":"line","strokeWidth":1.3},"encoding":{"y":{"field":"m","type":"quantitative","axis":{"values":[-2,0,2,4,6,8,10],"labels":false,"title":null}},"color":{"datum":"GPPmodis"}}},
{"mark":{"type":"errorband","band":{"color":"#ee4444","opacity":0.2}},"encoding":{"y":{"field":"r","type":"quantitative","axis":{"values":[-2,0,2,4,6,8,10],"labels":false,"title":null}},"yError":{"field":"R"}}},
{"mark":{"type":"line","strokeWidth":1},"encoding":{"y":{"field":"r","type":"quantitative","axis":{"values":[-2,0,2,4,6,8,10],"labels":false,"title":null}},"color":{"datum":"GPPvodtemp"}}}
]}
]
}
